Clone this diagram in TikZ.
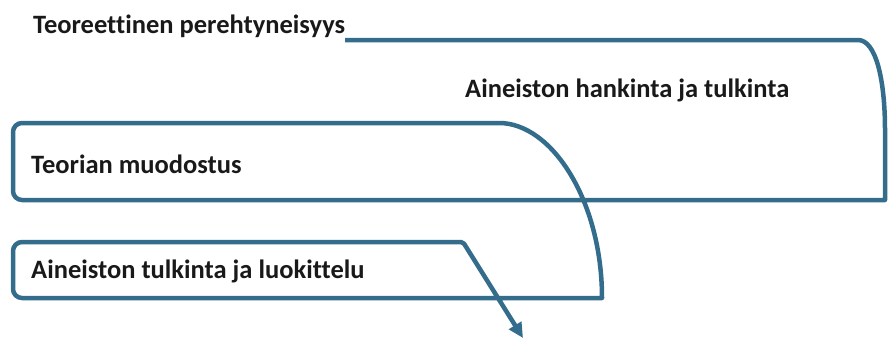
\documentclass[tikz,border=0pt]{standalone}
\usepackage{fontspec}
\setmainfont{Carlito}[Ligatures=NoCommon]
\usetikzlibrary{arrows.meta}
\definecolor{flow}{RGB}{52,108,140}
\definecolor{txt}{RGB}{25,25,25}
\tikzset{
  lbl/.style={anchor=base west, inner sep=0pt, font=\bfseries\fontsize{26.5}{30}\selectfont, text=txt},
  flowline/.style={draw=flow, line width=4.5pt, line join=round}
}
\begin{document}
\begin{tikzpicture}[x=1pt,y=-1pt]
\useasboundingbox (0,0) rectangle (888,340);
\node[lbl] (t1) at (33,33) {Teoreettinen perehtyneisyys};
\node[lbl] (t2) at (465,97) {Aineiston hankinta ja tulkinta};
\node[lbl] (t3) at (31,173) {Teorian muodostus};
\node[lbl] (t4) at (31,278) {Aineiston tulkinta ja luokittelu};
\coordinate (s) at (345,40);
\coordinate (a1) at (858,40);
\coordinate (a2) at (885,130);
\coordinate (a3) at (885,200);
\coordinate (b1) at (13,200);
\coordinate (b2) at (13,123);
\coordinate (b3) at (490,123);
\coordinate (c1) at (602,298);
\coordinate (d1) at (13,298);
\coordinate (d2) at (13,242);
\coordinate (d3) at (463,242);
\coordinate (e) at (523,338);
\draw[flowline, -{Triangle[length=15pt,width=14pt]}]
  (s) -- (a1) .. controls (876,40) and (885,80) .. (a2) -- (a3)
  [rounded corners=9pt] -- (b1) -- (b2) -- (b3) [sharp corners]
  .. controls (552,123) and (602,201) .. (c1)
  [rounded corners=9pt] -- (d1) -- (d2) [rounded corners=2pt] -- (d3) [sharp corners] -- (e);
\end{tikzpicture}
\end{document}
